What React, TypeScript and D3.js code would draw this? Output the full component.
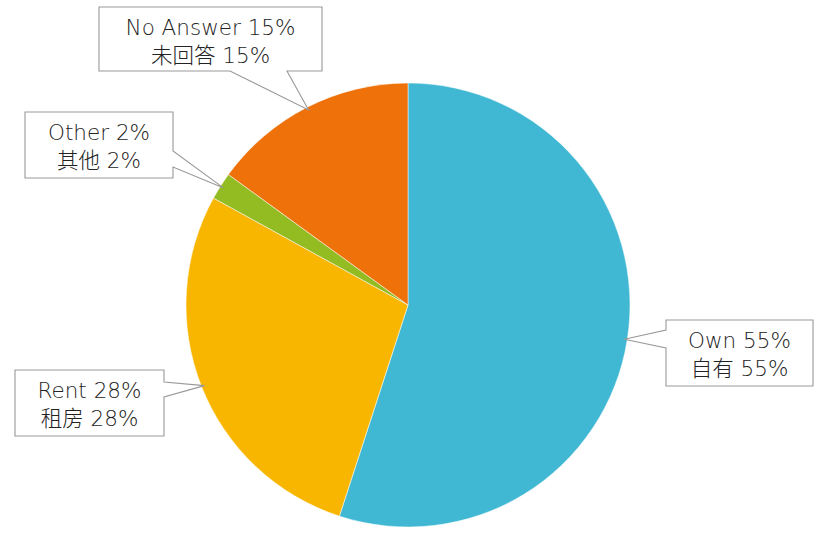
import React from "react";
import * as d3 from "d3";

const categories = ["Own", "Rent", "Other", "No Answer"];
const categoriesZh = ["自有", "租房", "其他", "未回答"];
const values = [55, 28, 2, 15];
const colors = ["#40B8D3", "#F9B600", "#93BB22", "#EE7109"];

// callout box layout (position/size), side of the pointer and its base span along that side
const boxes = [
  { x: 666, y: 320, w: 147, h: 66, side: "left", b0: 10, b1: 28 },
  { x: 15, y: 370, w: 149, h: 66, side: "right", b0: 12, b1: 27 },
  { x: 25, y: 112, w: 148, h: 66, side: "right", b0: 39, b1: 55 },
  { x: 99, y: 7, w: 223, h: 64, side: "bottom", b0: 131, b1: 188 },
];

const W = 820, H = 533;
const cx = 408, cy = 305, R = 222;

function calloutPath(b: any, tip: [number, number]) {
  const { x, y, w, h, side, b0, b1 } = b;
  const T = `${tip[0]},${tip[1]}`;
  if (side === "left")
    return `M${x},${y} H${x + w} V${y + h} H${x} V${y + b1} L${T} L${x},${y + b0} Z`;
  if (side === "right")
    return `M${x},${y} H${x + w} V${y + b0} L${T} L${x + w},${y + b1} V${y + h} H${x} Z`;
  return `M${x},${y} H${x + w} V${y + h} H${x + b1} L${T} L${x + b0},${y + h} H${x} Z`;
}

export default function App() {
  const pie = d3.pie<number>().sort(null).value((d) => d)(values);
  const arc = d3.arc<any>().innerRadius(0).outerRadius(R);
  const font = "'Century Gothic', 'DejaVu Sans', 'Noto Sans CJK SC', sans-serif";
  return (
    <svg width={W} height={H} style={{ position: "absolute", left: 0, top: 0 }}>
      <rect width={W} height={H} fill="#fff" />
      <g transform={`translate(${cx},${cy})`}>
        {pie.map((p, i) => (
          <path key={i} d={arc(p) || ""} fill={colors[i]} stroke="#fff" strokeWidth={0.5} />
        ))}
      </g>
      {pie.map((p, i) => {
        const a = (p.startAngle + p.endAngle) / 2;
        const r = R - 3;
        const tip: [number, number] = [cx + r * Math.sin(a), cy - r * Math.cos(a)];
        const b = boxes[i];
        const tx = b.x + b.w / 2;
        return (
          <g key={"c" + i}>
            <path d={calloutPath(b, tip)} fill="#fff" stroke="#999" strokeWidth={1.1} />
            <text x={tx} y={b.y + 28} textAnchor="middle" fontFamily={font} fontSize={21.5} fontWeight={300} fill="#222">
              {`${categories[i]} ${values[i]}%`}
            </text>
            <text x={tx} y={b.y + 56} textAnchor="middle" fontFamily={font} fontSize={21.5} fontWeight={300} fill="#222">
              {`${categoriesZh[i]} ${values[i]}%`}
            </text>
          </g>
        );
      })}
    </svg>
  );
}
